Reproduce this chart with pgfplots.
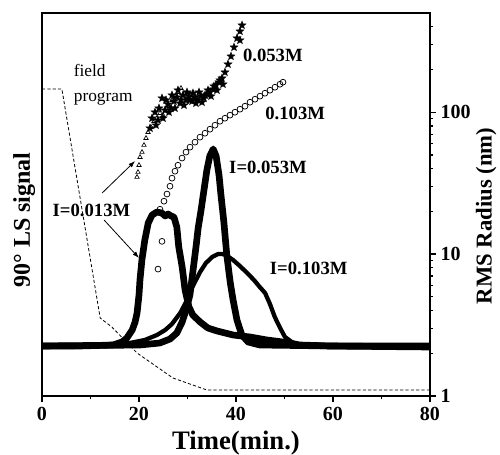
\documentclass[border=0pt]{standalone}
\usepackage{pgfplots}
\pgfplotsset{compat=1.18}
\usepackage{fontspec}
\setmainfont{Liberation Serif}
\usetikzlibrary{arrows.meta}

\pgfdeclareplotmark{fstar}{%
  \pgfpathmoveto{\pgfpointpolar{90}{\pgfplotmarksize}}%
  \pgfpathlineto{\pgfpointpolar{126}{0.42\pgfplotmarksize}}%
  \pgfpathlineto{\pgfpointpolar{162}{\pgfplotmarksize}}%
  \pgfpathlineto{\pgfpointpolar{198}{0.42\pgfplotmarksize}}%
  \pgfpathlineto{\pgfpointpolar{234}{\pgfplotmarksize}}%
  \pgfpathlineto{\pgfpointpolar{270}{0.42\pgfplotmarksize}}%
  \pgfpathlineto{\pgfpointpolar{306}{\pgfplotmarksize}}%
  \pgfpathlineto{\pgfpointpolar{342}{0.42\pgfplotmarksize}}%
  \pgfpathlineto{\pgfpointpolar{18}{\pgfplotmarksize}}%
  \pgfpathlineto{\pgfpointpolar{54}{0.42\pgfplotmarksize}}%
  \pgfpathclose
  \pgfusepathqfillstroke}

\pgfplotstableread{
x y
0 50
7.8 50
14.6 51
16.5 54
17.5 58
18.6 66
19.2 74
19.6 83
20.0 101
20.2 116
20.6 136
21.2 156
21.9 173
22.7 181
23.7 184
24.7 183
25.4 180
26.0 182
26.6 180
27.2 179
27.8 169
28.2 149
28.9 129
29.5 106
30.3 89
31.1 81
32.6 74
34.2 68
36.1 65
39.4 61
42.9 59
46.4 56
49.7 54
53.2 51
59.4 50
80 49
}\lsA

\pgfplotstableread{
x y
0 50
20.2 51
24.3 53
26.4 57
27.8 63
28.9 74
29.7 86
30.5 101
31.1 124
31.8 151
32.2 168
32.8 186
33.4 206
34.0 226
34.6 240
35.3 247
35.9 240
36.5 221
36.9 201
37.5 174
38.1 141
38.8 114
39.4 96
40.2 76
41.2 61
42.5 54
44.9 51
60 50
80 50
}\lsB

\begin{document}
\begin{tikzpicture}
\path[use as bounding box] (-31.5pt,-43.5pt) rectangle (343.5pt,297pt);

% ---------------- left axis: 90 deg LS signal ----------------
\begin{axis}[
  at={(0,0)}, anchor=south west, scale only axis,
  width=291pt, height=287.25pt,
  xmin=0, xmax=80, ymin=0, ymax=383,
  axis line style={line width=1pt},
  ytick=\empty,
  xtick={0,20,40,60,80}, minor xtick={10,30,50,70},
  xtick pos=left, tick align=outside,
  major tick length=4.5pt, minor tick length=2.5pt,
  tick style={line width=0.9pt, black},
  /pgf/number format/assume math mode=true,
  xticklabel style={font=\fontsize{15}{17}\selectfont\bfseries},
  xlabel={Time(min.)},
  xlabel style={at={(axis description cs:0.5,0)}, anchor=center, yshift=-35pt,
    font=\fontsize{20}{22}\selectfont\bfseries},
  ylabel={90° LS signal},
  ylabel style={at={(axis description cs:-0.046,0.46)}, anchor=center,
    font=\fontsize{18}{20}\selectfont\bfseries},
]
% field program (dashed)
\addplot[black, line width=0.6pt, dash pattern=on 2.4pt off 1.6pt] coordinates {
 (0,307) (4.1,307) (12.0,78) (14.4,69) (19.6,43) (27.0,18) (34.0,6) (80,6)
};
% I = 0.103 M (solid line)
\addplot[black, line width=3.2pt, line join=round] coordinates {
 (0,50) (12.0,51) (18.1,53) (21.2,56) (23.7,61) (25.4,66) (26.8,72) (28.5,83)
 (29.7,94) (30.9,108) (32.6,124) (33.8,133) (35.1,139) (36.3,142) (37.1,142)
 (37.9,141) (39.4,136) (40.8,130) (42.3,123) (43.7,116) (44.9,109) (46.0,103)
 (47.0,92) (48.0,79) (49.1,68) (50.1,59) (51.5,54) (53.2,51) (60,50) (70,50) (80,49)
};
% I = 0.013 M (dense triangles)
\addplot[black, line width=5pt, line join=round] table {\lsA};
% I = 0.053 M (dense stars)
\addplot[black, line width=5pt, line join=round] table {\lsB};
% annotations
\node[font=\fontsize{14}{16}\selectfont\bfseries] at (axis cs:47.6,341) {0.053M};
\node[font=\fontsize{14}{16}\selectfont\bfseries] at (axis cs:52.2,283) {0.103M};
\node[font=\fontsize{14}{16}\selectfont\bfseries] at (axis cs:46.6,229) {I=0.053M};
\node[font=\fontsize{14}{16}\selectfont\bfseries] at (axis cs:55.0,128) {I=0.103M};
\node[font=\fontsize{14}{16}\selectfont\bfseries] at (axis cs:10.2,186) {I=0.013M};
\node[font=\fontsize{13}{18.75}\selectfont, align=left, anchor=west] at (axis cs:5.6,311) {field\\program};
\draw[-{Latex[length=5pt,width=3.5pt]}, line width=0.6pt] (axis cs:12.4,203) -- (axis cs:19.2,235);
\draw[-{Latex[length=5pt,width=3.5pt]}, line width=0.6pt] (axis cs:12.8,176) -- (axis cs:20.0,138);
\end{axis}

% ---------------- right axis: RMS radius ----------------
\begin{axis}[
  at={(0,0)}, anchor=south west, scale only axis,
  width=291pt, height=287.25pt,
  xmin=0, xmax=80, ymode=log, ymin=1, ymax=500,
  axis x line=none, axis y line*=right,
  axis line style={line width=1pt},
  ytick={1,10,100}, yticklabels={1,10,100},
  minor ytick={2,3,4,5,6,7,8,9,20,30,40,50,60,70,80,90,200,300,400},
  tick align=outside, major tick length=4.5pt, minor tick length=2.5pt,
  tick style={line width=0.9pt, black},
  /pgf/number format/assume math mode=true,
  yticklabel style={font=\fontsize{15}{17}\selectfont\bfseries},
  ylabel={RMS Radius (nm)},
  ylabel style={at={(axis description cs:1.145,0.47)}, anchor=center,
    font=\fontsize{17}{19}\selectfont\bfseries},
]
% 0.013 M (triangles)
\addplot[only marks, mark=triangle, mark size=1.9pt, mark options={line width=0.5pt, black}] coordinates {
 (19.59,34.9) (19.79,37.8) (20.00,42.3) (20.21,48.2) (20.62,52.3) (21.03,58.6)
 (21.44,65.6) (21.86,72.3) (22.47,78.4) (23.09,86.4) (23.71,90.7) (24.33,98.4)
 (24.95,95.3) (25.57,106.7) (26.19,110.2) (26.80,121.5) (27.42,129.7)
 (28.04,138.3) (28.66,147.5) (29.28,136.1) (29.90,127.6) (30.52,131.8) (31.13,123.5)
};
% 0.053 M (stars)
\addplot[only marks, mark=fstar, mark size=3pt, mark options={line width=0.4pt, black, fill=black}] coordinates {
 (22.27,77.1) (23.30,100) (23.92,87.9) (24.74,125.5) (25.36,103.3) (25.98,113.8)
 (26.60,106.7) (27.22,119.5) (27.84,127.6) (28.45,115.7) (29.07,131.8) (29.69,121.5)
 (30.31,129.7) (30.93,119.5) (31.55,127.6) (32.16,121.5) (32.78,129.7) (33.40,125.5)
 (34.02,133.9) (34.64,138.3) (35.26,145.2) (35.88,155.0) (36.49,162.7) (37.11,173.5)
 (37.73,191.2) (38.35,217.8) (38.97,247.8) (39.59,286.8) (40.21,332.2) (40.82,371.8)
 (41.24,409.9) (40.82,321.6)
 (22.68,90.7) (23.51,81.0) (24.12,106.7) (24.95,90.7) (25.57,121.7) (26.19,100)
 (26.80,131.8) (27.42,106.7) (28.04,142.9) (28.66,121.7) (29.28,112.0) (29.90,138.3)
 (30.52,121.7) (31.13,136.1) (31.75,115.7) (32.37,138.3) (32.99,117.6) (33.61,131.8)
 (34.23,142.9) (34.85,129.7) (35.46,152.4) (36.08,142.9) (36.70,168.0) (37.32,157.4)
};
% 0.103 M (circles)
\addplot[only marks, mark=o, mark size=2.2pt, mark options={line width=0.55pt, black}] coordinates {
 (23.92,7.84) (24.74,12.3)
 (24.33,20.7) (25.15,23.6) (25.77,26.5) (26.39,30.1) (26.80,34.3) (27.42,38.4)
 (28.04,42.3) (28.87,47.5) (29.69,52.3) (30.52,56.7) (31.55,61.5) (32.58,66.7)
 (33.61,71.1) (34.64,75.9) (35.67,81.0) (36.70,86.4) (37.73,90.7) (38.76,95.3)
 (39.79,100) (40.82,105.0) (41.86,110.2) (42.89,117.6) (43.92,123.5) (44.95,129.7)
 (45.98,136.1) (47.01,142.9) (48.04,150.0) (49.07,157.4) (49.69,162.7)
};
\end{axis}
\end{tikzpicture}
\end{document}
